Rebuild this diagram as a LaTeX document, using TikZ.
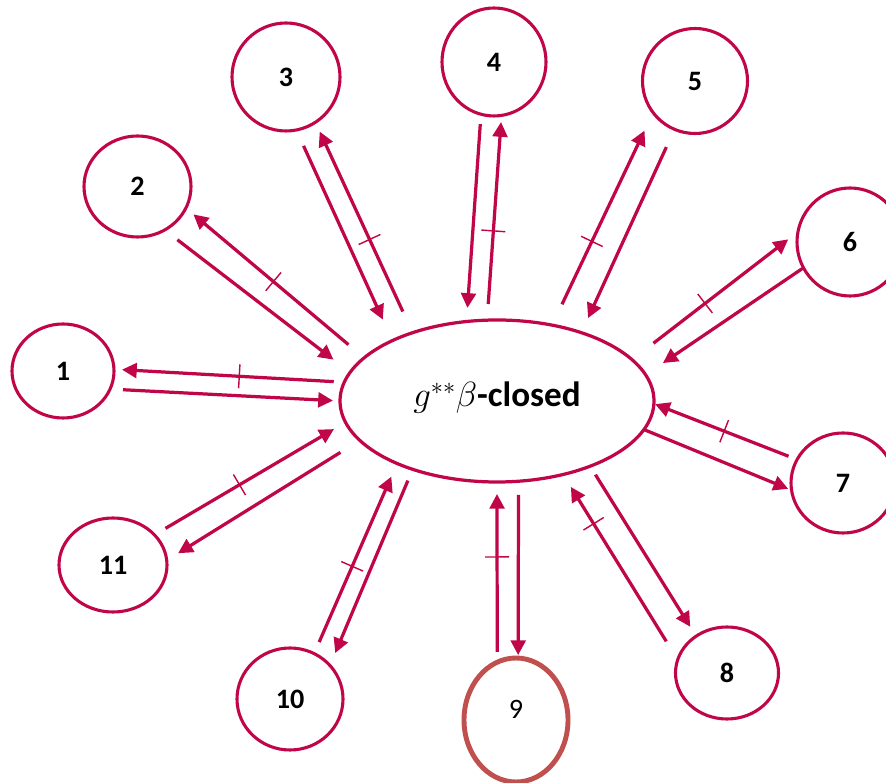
\documentclass[tikz,border=0pt]{standalone}
\usepackage{fontspec}
\setmainfont{Carlito}
\usetikzlibrary{arrows.meta,shapes.geometric,decorations.markings}
\definecolor{crim}{RGB}{192,6,72}
\definecolor{brick}{RGB}{192,80,77}

\begin{document}
\begin{tikzpicture}[
  num/.style={draw=crim,ellipse,line width=2.2pt,inner sep=0pt,outer sep=0pt,font=\fontsize{20}{24}\selectfont\bfseries},
  imp/.style={draw=crim,line width=2.3pt,-{Triangle[length=10.5pt,width=10.5pt]}},
  nimp/.style={imp,postaction={decorate,decoration={markings,mark=at position #1 with
    {\draw[crim,line width=1pt,-,shorten <=0pt,shorten >=0pt] (0,-8.5pt) -- (0,8.5pt);}}}}]
  \useasboundingbox (0,0) rectangle (22.15,19.55);

  \node[draw=crim,ellipse,line width=2.3pt,inner sep=0pt,outer sep=0pt,minimum width=7.85cm,minimum height=4.05cm,
        text depth=9pt,font=\fontsize{25}{30}\selectfont] (gb) at (12.425,9.525) {$g^{**}\beta$\textbf{-closed}};

  \node[num,minimum width=2.55cm,minimum height=2.35cm] (n1) at (1.575,10.275) {1};
  \node[num,minimum width=2.675cm,minimum height=2.525cm] (n2) at (3.4375,14.8875) {2};
  \node[num,minimum width=2.7cm,minimum height=2.7cm] (n3) at (7.15,17.625) {3};
  \node[num,minimum width=2.6cm,minimum height=2.7cm] (n4) at (12.35,18.0) {4};
  \node[num,minimum width=2.625cm,minimum height=2.625cm] (n5) at (17.375,17.525) {5};
  \node[num,minimum width=2.65cm,minimum height=2.7cm] (n6) at (21.25,13.5) {6};
  \node[num,minimum width=2.6cm,minimum height=2.5cm] (n7) at (21.075,7.475) {7};
  \node[num,minimum width=2.575cm,minimum height=2.3cm] (n8) at (18.175,2.725) {8};
  \node[num,draw=brick,line width=3.5pt,font=\fontsize{20}{24}\selectfont,text depth=15pt,
        minimum width=2.6cm,minimum height=3.1cm] (n9) at (12.9,1.55) {9};
  \node[num,minimum width=2.65cm,minimum height=2.55cm] (n10) at (7.25,2.075) {10};
  \node[num,minimum width=2.7cm,minimum height=2.35cm] (n11) at (2.825,5.425) {11};

  % outward
  \draw[nimp=0.456,shorten <=7.5pt,shorten >=5.7pt] (gb.173.6) -- (n1.2.8);
  \draw[imp,shorten <=9.2pt,shorten >=5pt] (n1.-21.3) -- (gb.180);

  \draw[nimp=0.509,shorten <=14.6pt,shorten >=7pt] (gb.162.2) -- (n2.-24.8);
  \draw[imp,shorten <=11.4pt,shorten >=14.9pt] (n2.-58.5) -- (gb.169.2);

  \draw[nimp=0.443,shorten <=16.6pt,shorten >=7.3pt] (gb.141.9) -- (n3.-57.8);
  \draw[imp,shorten <=12.4pt,shorten >=16.4pt] (n3.-79.6) -- (gb.150.3);

  \draw[nimp=0.436,shorten <=11.5pt,shorten >=4.7pt] (gb.97.2) -- (n4.-82);
  \draw[imp,shorten <=7pt,shorten >=9.7pt] (n4.-104.3) -- (gb.111.3);

  \draw[nimp=0.394,shorten <=16.4pt,shorten >=14.2pt] (gb.54.6) -- (n5.-143.9);
  \draw[imp,shorten <=13.9pt,shorten >=11.4pt] (n5.-113.3) -- (gb.39.4);

  \draw[nimp=0.44,shorten <=19.2pt,shorten >=8.7pt] (gb.17.8) -- (n6.169.8);
  \draw[imp,shorten <=1pt,shorten >=14.9pt] (n6.-151.8) -- (gb.10);

  % inward
  \draw[nimp=0.509,shorten <=6.5pt,shorten >=0.9pt] (n7.153.9) -- (gb.-1.7);
  \draw[imp,shorten >=2.6pt] (gb.-11) -- (n7.-172.9);

  \draw[nimp=0.734,shorten <=15.4pt,shorten >=10.4pt] (n8.165.7) -- (gb.-48.4);
  \draw[imp,shorten <=7.1pt,shorten >=7.9pt] (gb.-35.2) -- (n8.130.4);

  \draw[nimp=0.584,shorten <=7.3pt,shorten >=8.5pt] (n9.108.2) -- (gb.-90);
  \draw[imp,shorten <=9.7pt,shorten >=2.1pt] (gb.-75.3) -- (n9.88.2);

  \draw[nimp=0.459,shorten <=8.9pt,shorten >=10.2pt] (n10.62.1) -- (gb.-148.6);
  \draw[imp,shorten <=8.7pt,shorten >=9.6pt] (gb.-141.9) -- (n10.40);

  \draw[nimp=0.445,shorten <=9.1pt,shorten >=9.5pt] (n11.36.6) -- (gb.-172.9);
  \draw[imp,shorten <=16.2pt,shorten >=9.5pt] (gb.-164.2) -- (n11.5.6);

\end{tikzpicture}
\end{document}
